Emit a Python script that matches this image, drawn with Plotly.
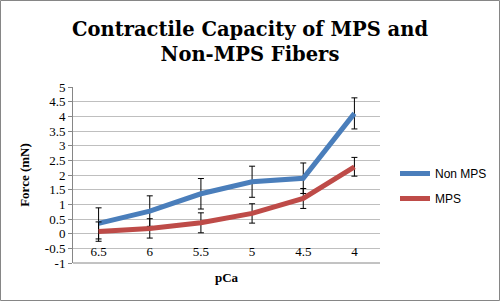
import plotly.graph_objects as go

categories = ["6.5", "6", "5.5", "5", "4.5", "4"]
non_mps = [0.35, 0.77, 1.36, 1.77, 1.89, 4.1]
non_mps_err = [0.53, 0.52, 0.52, 0.53, 0.52, 0.53]
mps = [0.07, 0.18, 0.37, 0.69, 1.2, 2.28]
mps_err = [0.33, 0.33, 0.34, 0.33, 0.34, 0.32]
y_ticks = [-1, -0.5, 0, 0.5, 1, 1.5, 2, 2.5, 3, 3.5, 4, 4.5, 5]
y_ticktext = [f"{v:g}" for v in y_ticks]

BLUE = "#4a7ebb"
RED = "#be4b48"
GRID = "#bfbfbf"
AXIS = "#868686"
SERIF = "Liberation Serif"
SANS = "Liberation Sans"

L, R, T, B = 73, 120, 87, 38
W, H = 500, 301
pw, ph = W - L - R, H - T - B

fig = go.Figure()
fig.add_trace(go.Scatter(
    x=categories, y=non_mps, name="Non MPS", mode="lines",
    line=dict(color=BLUE, width=5), legendgroup="a",
    error_y=dict(type="data", array=non_mps_err, visible=True,
                 color="black", thickness=1, width=3),
))
fig.add_trace(go.Scatter(
    x=categories, y=mps, name="MPS", mode="lines",
    line=dict(color=RED, width=5), legendgroup="b",
    error_y=dict(type="data", array=mps_err, visible=True,
                 color="black", thickness=1, width=3),
))

def px_x(p):
    return (p - L) / pw

def px_y(p):
    return (H - B - p) / ph

shapes = [
    dict(type="line", xref="paper", yref="paper", x0=0, x1=1, y0=0, y1=0,
         line=dict(color=AXIS, width=1)),
    dict(type="rect", xref="paper", yref="paper",
         x0=px_x(0.5), x1=px_x(W - 0.5), y0=px_y(H - 0.5), y1=px_y(0.5),
         line=dict(color=AXIS, width=1), fillcolor="rgba(0,0,0,0)", layer="above"),
]

fig.update_layout(
    width=W, height=H,
    margin=dict(l=L, r=R, t=T, b=B, autoexpand=False),
    paper_bgcolor="white", plot_bgcolor="white",
    title=dict(
        text="Contractile Capacity of MPS and<br>Non-MPS Fibers",
        x=0.5, xref="container", xanchor="center",
        y=0.882, yref="container", yanchor="top",
        font=dict(family="DejaVu Serif", size=19.5, color="black", weight="bold"),
    ),
    xaxis=dict(
        type="category", categoryorder="array", categoryarray=categories,
        range=[-0.5, 5.5], anchor="free", position=1 / 6,
        showline=False, showgrid=False, zeroline=False,
        ticks="outside", ticklen=6, tickcolor="rgba(0,0,0,0)",
        automargin=False,
        tickfont=dict(family=SERIF, size=13, color="black"),
    ),
    yaxis=dict(
        range=[-1, 5], tickvals=y_ticks, ticktext=y_ticktext,
        showgrid=True, gridcolor=GRID, gridwidth=1,
        zeroline=False, automargin=False,
        showline=True, linecolor=AXIS, linewidth=1,
        ticks="outside", ticklen=4, tickcolor=AXIS,
        tickfont=dict(family=SERIF, size=13, color="black"),
        title=dict(text="Force (mN)", font=dict(family=SERIF, size=13, color="black", weight="bold"),
                   standoff=12),
    ),
    annotations=[
        dict(text="pCa", xref="paper", yref="paper", x=0.5, y=px_y(277),
             xanchor="center", yanchor="middle", showarrow=False,
             font=dict(family=SERIF, size=13, color="black", weight="bold")),
    ],
    legend=dict(
        x=px_x(395), xanchor="left", y=px_y(159), yanchor="top",
        font=dict(family=SANS, size=12, color="black"),
        tracegroupgap=6, bgcolor="rgba(0,0,0,0)",
    ),
    shapes=shapes,
)

fig.write_html("out.html", post_script="document.body.style.margin='0';",
               config={"displayModeBar": False})
